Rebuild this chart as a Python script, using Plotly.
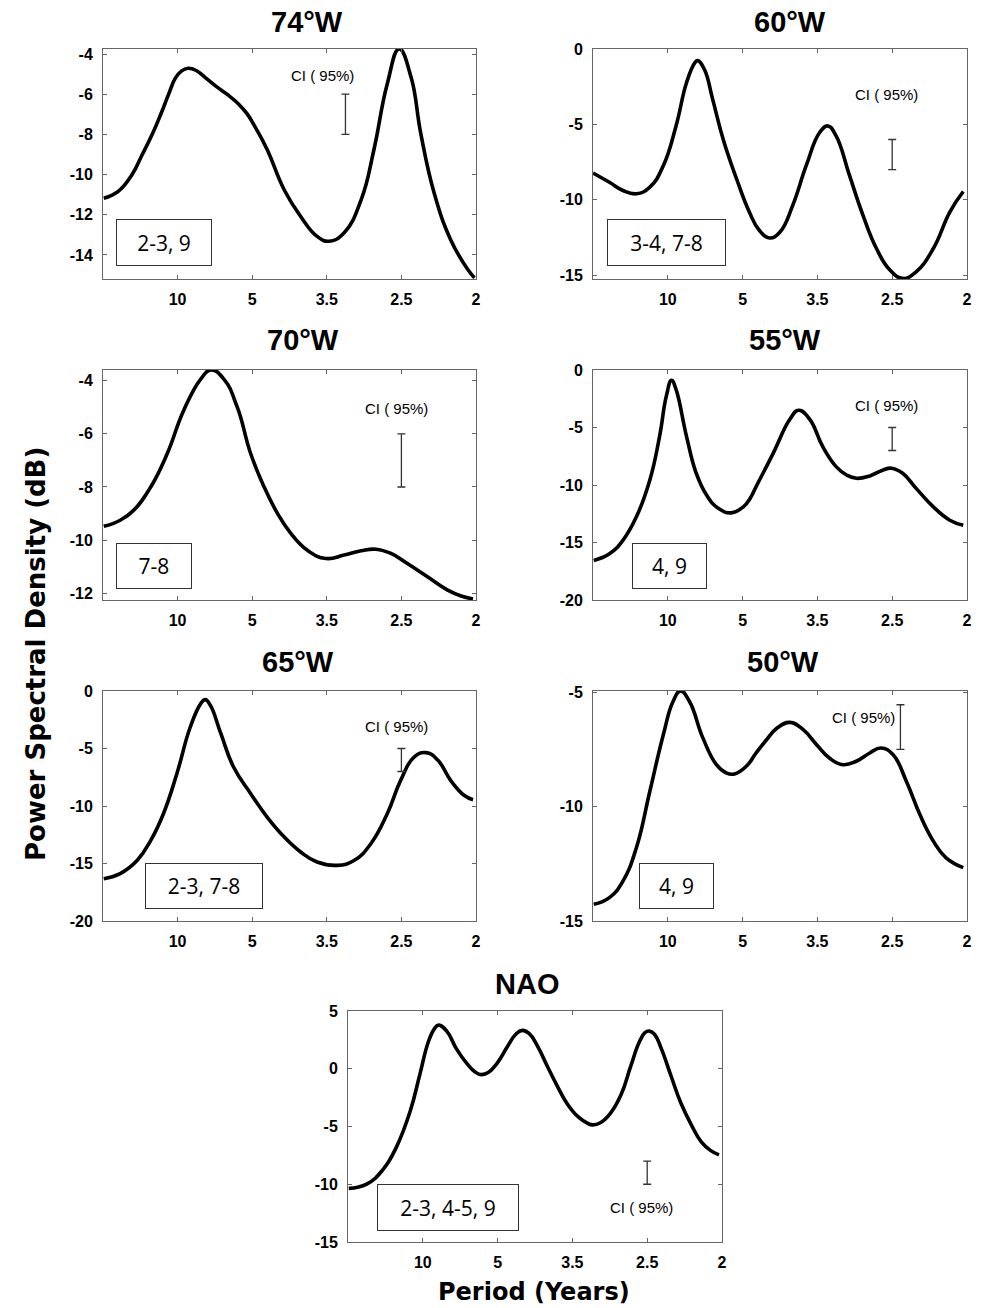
import plotly.graph_objects as go

# ---------------- data (x = position on the period scale: 1->10 yr, 2->5, 3->3.5, 4->2.5, 5->2) ----
period_tickpos = [1, 2, 3, 4, 5]
period_labels = ["10", "5", "3.5", "2.5", "2"]

x_74w = [0.01, 0.20, 0.39, 0.52, 0.66, 0.78, 0.88, 0.97, 1.05, 1.14, 1.25, 1.38, 1.53, 1.68, 1.82,
         1.93, 2.05, 2.20, 2.43, 2.65, 2.87, 3.03, 3.23, 3.46, 3.63, 3.81, 3.97, 4.13, 4.26, 4.44, 4.66,
         4.89, 4.98]
psd_74w = [-11.18, -10.85, -10.00, -9.05, -8.00, -6.95, -6.00, -5.20, -4.85, -4.71, -4.82, -5.20, -5.65,
           -6.05, -6.50, -6.97, -7.70, -8.75, -10.77, -12.09, -13.08, -13.32, -12.91, -11.26, -8.79,
           -5.49, -3.75, -5.16, -7.96, -10.93, -13.24, -14.73, -15.14]

x_60w = [0.0, 0.22, 0.40, 0.58, 0.76, 0.94, 1.11, 1.25, 1.36, 1.40, 1.49, 1.60, 1.74, 1.92, 2.09, 2.22,
         2.36, 2.50, 2.67, 2.85, 3.03, 3.14, 3.25, 3.43, 3.61, 3.79, 3.97, 4.14, 4.32, 4.55, 4.77, 4.95]
psd_60w = [-8.22, -8.84, -9.38, -9.60, -9.16, -7.74, -5.10, -2.24, -0.92, -0.77, -1.36, -3.34, -5.98,
           -8.62, -10.81, -12.00, -12.53, -12.13, -10.37, -7.74, -5.54, -5.10, -5.76, -8.40, -11.03,
           -13.23, -14.66, -15.21, -14.77, -13.23, -10.81, -9.45]

x_70w = [0.01, 0.23, 0.41, 0.64, 0.86, 1.08, 1.31, 1.45, 1.62, 1.80, 1.98, 2.16, 2.34, 2.52, 2.74, 2.99,
         3.23, 3.46, 3.66, 3.86, 4.08, 4.35, 4.62, 4.80, 4.96]
psd_70w = [-9.48, -9.25, -8.88, -8.00, -6.75, -5.13, -3.94, -3.60, -3.94, -5.00, -6.75, -8.00, -9.00,
           -9.75, -10.38, -10.69, -10.56, -10.40, -10.34, -10.50, -10.88, -11.38, -11.88, -12.10, -12.21]

x_55w = [0.01, 0.22, 0.40, 0.58, 0.76, 0.89, 0.98, 1.05, 1.11, 1.25, 1.38, 1.52, 1.68, 1.85, 2.01, 2.10,
         2.18, 2.41, 2.63, 2.75, 2.90, 3.07, 3.25, 3.39, 3.52, 3.70, 3.88, 3.99, 4.14, 4.32, 4.55, 4.77,
         4.95]
psd_55w = [-16.56, -15.98, -14.81, -12.77, -9.56, -5.77, -2.27, -0.90, -1.69, -5.77, -8.98, -10.90,
           -12.05, -12.42, -11.90, -11.17, -10.15, -7.23, -4.31, -3.50, -4.31, -6.65, -8.40, -9.13,
           -9.42, -9.21, -8.69, -8.54, -8.98, -10.29, -11.90, -13.06, -13.50]

x_65w = [0.01, 0.23, 0.46, 0.64, 0.81, 0.99, 1.17, 1.31, 1.37, 1.44, 1.58, 1.75, 1.98, 2.20, 2.43, 2.65,
         2.87, 3.14, 3.37, 3.59, 3.81, 3.99, 4.17, 4.33, 4.49, 4.66, 4.84, 4.96]
psd_65w = [-16.32, -15.88, -14.72, -12.99, -10.67, -7.19, -3.13, -1.10, -0.75, -1.25, -3.71, -6.61,
           -8.93, -10.96, -12.70, -14.00, -14.87, -15.16, -14.72, -13.28, -10.67, -7.77, -5.74, -5.36,
           -6.03, -7.77, -9.07, -9.45]

x_50w = [0.01, 0.22, 0.40, 0.58, 0.76, 0.94, 1.07, 1.17, 1.29, 1.47, 1.65, 1.78, 1.89, 2.05, 2.18, 2.32,
         2.45, 2.63, 2.81, 2.99, 3.16, 3.34, 3.52, 3.70, 3.85, 4.01, 4.19, 4.37, 4.55, 4.72, 4.95]
psd_50w = [-14.27, -13.98, -13.26, -11.80, -9.33, -6.86, -5.41, -4.95, -5.41, -7.01, -8.17, -8.53,
           -8.58, -8.24, -7.66, -7.08, -6.60, -6.32, -6.64, -7.30, -7.88, -8.17, -8.02, -7.66, -7.44,
           -7.73, -8.90, -10.35, -11.51, -12.24, -12.67]

x_nao = [0.01, 0.25, 0.47, 0.65, 0.83, 0.96, 1.07, 1.15, 1.21, 1.32, 1.45, 1.59, 1.70, 1.78, 1.88, 1.99,
         2.13, 2.24, 2.33, 2.42, 2.53, 2.66, 2.80, 2.93, 3.07, 3.20, 3.27, 3.38, 3.51, 3.65, 3.78, 3.89,
         3.97, 4.03, 4.10, 4.19, 4.32, 4.45, 4.59, 4.72, 4.85, 4.96]
psd_nao = [-10.36, -9.99, -8.71, -6.74, -3.70, -0.51, 2.25, 3.41, 3.78, 3.26, 1.72, 0.45, -0.28, -0.51,
           -0.30, 0.45, 1.90, 2.97, 3.32, 3.06, 2.01, 0.28, -1.52, -3.03, -4.13, -4.71, -4.86, -4.65,
           -3.84, -2.25, 0.22, 2.25, 3.12, 3.26, 2.97, 1.72, -0.65, -2.97, -4.86, -6.30, -7.09, -7.46]

panel_titles = ["74°W", "60°W", "70°W", "55°W", "65°W", "50°W", "NAO"]
box_texts = ["2-3, 9", "3-4, 7-8", "7-8", "4, 9", "2-3, 7-8", "4, 9", "2-3, 4-5, 9"]
ci_low = [-8, -8, -8, -7, -7, -7.5, -10]
ci_high = [-6, -6, -6, -5, -5, -5.55, -8]
ci_x = [3.25, 4.0, 4.0, 4.0, 4.0, 4.11, 4.0]
ci_label = "CI ( 95%)"

series_x = [x_74w, x_60w, x_70w, x_55w, x_65w, x_50w, x_nao]
series_y = [psd_74w, psd_60w, psd_70w, psd_55w, psd_65w, psd_50w, psd_nao]

# ---------------- layout (pixels) ----------------
W, H = 983, 1308
y_ranges = [[-15.2, -3.75], [-15.25, 0], [-12.25, -3.6], [-20, 0], [-20, 0], [-15, -4.95], [-15, 5]]
y_ticks = [[-14, -12, -10, -8, -6, -4], [-15, -10, -5, 0], [-12, -10, -8, -6, -4],
           [-20, -15, -10, -5, 0], [-20, -15, -10, -5, 0], [-15, -10, -5], [-15, -10, -5, 0, 5]]
col_px = [(103, 476), (593, 967), (103, 476), (593, 967), (103, 476), (593, 967), (348, 722)]
row_px = [(49, 279), (49, 279), (370, 600), (370, 600), (691, 921), (691, 921), (1011, 1242)]
title_px = [(307, 22), (790, 22), (303, 340), (785, 340), (298, 662), (783, 662), (527, 984)]
box_px = [(116, 219, 212, 266), (607, 219, 726, 266), (116, 543, 192, 589), (632, 543, 707, 589),
          (145, 863, 263, 909), (639, 863, 714, 909), (377, 1184, 519, 1231)]
ci_label_pos = [(2.94, -5.07), (3.92, -3.0), (3.93, -5.06), (3.92, -3.09), (3.93, -3.07), (3.62, -6.1),
                (3.93, -12.0)]

fig = go.Figure()
layout = dict(width=W, height=H, margin=dict(l=0, r=0, t=0, b=0, autoexpand=False),
              paper_bgcolor="white", plot_bgcolor="white", showlegend=False)
annotations = []

axis_common = dict(showline=True, linecolor="#666", linewidth=1, mirror="ticks", ticks="inside",
                   ticklen=4, tickcolor="#666", showgrid=False, zeroline=False, automargin=False,
                   tickfont=dict(family="Liberation Sans", size=16, color="black", weight="bold"))

for i in range(7):
    n = "" if i == 0 else str(i + 1)
    xa, ya = "x" + n, "y" + n
    fig.add_trace(go.Scatter(x=series_x[i], y=series_y[i], mode="lines",
                             line=dict(color="black", width=3.6, shape="spline", smoothing=1.3),
                             xaxis=xa, yaxis=ya, hoverinfo="skip"))
    mid = (ci_low[i] + ci_high[i]) / 2
    half = (ci_high[i] - ci_low[i]) / 2
    fig.add_trace(go.Scatter(x=[ci_x[i]], y=[mid], mode="markers",
                             marker=dict(size=1, color="rgba(0,0,0,0)"),
                             error_y=dict(type="data", symmetric=True, array=[half], width=4,
                                          thickness=1.3, color="#333"),
                             xaxis=xa, yaxis=ya, hoverinfo="skip"))
    x0, x1 = col_px[i]
    yt, yb = row_px[i]
    layout["xaxis" + n] = dict(axis_common, domain=[x0 / W, x1 / W], range=[0, 5], anchor=ya,
                               tickvals=period_tickpos, ticktext=period_labels, ticklabelstandoff=6)
    layout["yaxis" + n] = dict(axis_common, domain=[1 - yb / H, 1 - yt / H], range=y_ranges[i],
                               anchor=xa, tickvals=y_ticks[i],
                               ticktext=[str(v) for v in y_ticks[i]], ticklabelstandoff=6)
    tx, ty = title_px[i]
    annotations.append(dict(text=panel_titles[i], xref="paper", yref="paper", x=tx / W, y=1 - ty / H,
                            xanchor="center", yanchor="middle", showarrow=False,
                            font=dict(family="Liberation Sans", size=29, color="black", weight="bold")))
    bx0, by0, bx1, by1 = box_px[i]
    annotations.append(dict(text=box_texts[i], xref="paper", yref="paper",
                            x=(bx0 + bx1) / 2 / W, y=1 - (by0 + by1) / 2 / H,
                            xanchor="center", yanchor="middle", showarrow=False,
                            width=bx1 - bx0 - 2, height=by1 - by0 - 2, borderpad=0,
                            bordercolor="#333", borderwidth=1,
                            font=dict(family="Open Sans", size=21, color="black")))
    lx, ly = ci_label_pos[i]
    annotations.append(dict(text=ci_label, xref=xa, yref=ya, x=lx, y=ly, xanchor="center",
                            yanchor="middle", showarrow=False,
                            font=dict(family="Liberation Sans", size=15, color="black")))

annotations.append(dict(text="Power Spectral Density (dB)", xref="paper", yref="paper",
                        x=36 / W, y=1 - 654 / H, xanchor="center", yanchor="middle", textangle=-90,
                        showarrow=False,
                        font=dict(family="DejaVu Sans", size=26, color="black", weight="bold")))
annotations.append(dict(text="Period (Years)", xref="paper", yref="paper",
                        x=534 / W, y=1 - 1292 / H, xanchor="center", yanchor="middle",
                        showarrow=False,
                        font=dict(family="DejaVu Sans", size=24, color="black", weight="bold")))

layout["annotations"] = annotations
fig.update_layout(**layout)

page_fix = (
    "document.documentElement.style.margin='0';"
    "document.documentElement.style.padding='0';"
    "document.documentElement.style.overflow='hidden';"
    "document.body.style.margin='0';"
    "document.body.style.padding='0';"
    "document.body.style.overflow='hidden';"
    "document.body.style.height='1308px';"
    "var gd=document.getElementsByClassName('plotly-graph-div')[0];"
    "gd.style.position='fixed';gd.style.left='0px';gd.style.top='0px';"
)
fig.write_html("out.html", config={"displayModeBar": False}, post_script=page_fix)
